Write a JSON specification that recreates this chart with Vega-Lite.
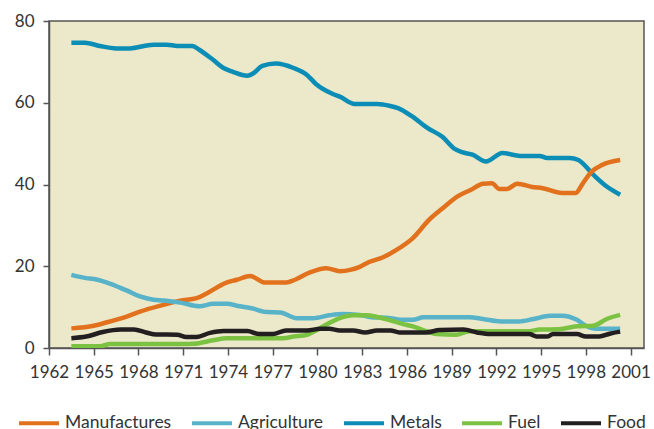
{
  "$schema": "https://vega.github.io/schema/vega-lite/v6.json",
  "width": 595,
  "height": 327,
  "autosize": {"type": "none"},
  "padding": {"left": 49, "top": 21, "right": 10, "bottom": 81},
  "background": "white",
  "config": {
    "view": {"fill": "#ECE9CB", "stroke": "#555555", "strokeWidth": 1.5},
    "font": "Lato",
    "axis": {"labelFont": "Lato", "labelFontSize": 17, "labelColor": "#333333", "domainColor": "#555555", "tickColor": "#555555", "domainWidth": 1.5, "tickWidth": 1.5, "grid": false, "title": null}
  },
  "data": {
    "values": [
      {"series": "Metals", "year": 1963.5, "value": 74.7},
      {"series": "Metals", "year": 1964.4, "value": 74.7},
      {"series": "Metals", "year": 1965.4, "value": 73.9},
      {"series": "Metals", "year": 1966.5, "value": 73.3},
      {"series": "Metals", "year": 1967.4, "value": 73.3},
      {"series": "Metals", "year": 1969.0, "value": 74.2},
      {"series": "Metals", "year": 1969.9, "value": 74.2},
      {"series": "Metals", "year": 1970.6, "value": 73.9},
      {"series": "Metals", "year": 1971.6, "value": 73.9},
      {"series": "Metals", "year": 1972.1, "value": 72.9},
      {"series": "Metals", "year": 1973.0, "value": 70.5},
      {"series": "Metals", "year": 1973.7, "value": 68.5},
      {"series": "Metals", "year": 1974.3, "value": 67.6},
      {"series": "Metals", "year": 1975.3, "value": 66.6},
      {"series": "Metals", "year": 1975.7, "value": 67.2},
      {"series": "Metals", "year": 1976.3, "value": 69.0},
      {"series": "Metals", "year": 1977.2, "value": 69.6},
      {"series": "Metals", "year": 1978.4, "value": 68.5},
      {"series": "Metals", "year": 1979.3, "value": 66.8},
      {"series": "Metals", "year": 1979.9, "value": 64.6},
      {"series": "Metals", "year": 1981.0, "value": 62.2},
      {"series": "Metals", "year": 1981.5, "value": 61.5},
      {"series": "Metals", "year": 1982.5, "value": 59.7},
      {"series": "Metals", "year": 1984.0, "value": 59.7},
      {"series": "Metals", "year": 1984.9, "value": 59.2},
      {"series": "Metals", "year": 1985.4, "value": 58.7},
      {"series": "Metals", "year": 1986.3, "value": 56.8},
      {"series": "Metals", "year": 1987.4, "value": 53.8},
      {"series": "Metals", "year": 1988.4, "value": 51.6},
      {"series": "Metals", "year": 1989.2, "value": 48.7},
      {"series": "Metals", "year": 1989.7, "value": 47.9},
      {"series": "Metals", "year": 1990.4, "value": 47.3},
      {"series": "Metals", "year": 1991.3, "value": 45.6},
      {"series": "Metals", "year": 1992.4, "value": 47.7},
      {"series": "Metals", "year": 1993.6, "value": 47.0},
      {"series": "Metals", "year": 1994.9, "value": 47.0},
      {"series": "Metals", "year": 1995.4, "value": 46.5},
      {"series": "Metals", "year": 1996.9, "value": 46.5},
      {"series": "Metals", "year": 1997.5, "value": 46.0},
      {"series": "Metals", "year": 1998.5, "value": 42.4},
      {"series": "Metals", "year": 1999.4, "value": 39.5},
      {"series": "Metals", "year": 2000.3, "value": 37.5},

      {"series": "Manufactures", "year": 1963.5, "value": 4.8},
      {"series": "Manufactures", "year": 1965.0, "value": 5.45},
      {"series": "Manufactures", "year": 1965.9, "value": 6.3},
      {"series": "Manufactures", "year": 1967.2, "value": 7.7},
      {"series": "Manufactures", "year": 1968.1, "value": 8.9},
      {"series": "Manufactures", "year": 1969.4, "value": 10.3},
      {"series": "Manufactures", "year": 1970.8, "value": 11.6},
      {"series": "Manufactures", "year": 1971.9, "value": 12.2},
      {"series": "Manufactures", "year": 1972.6, "value": 13.4},
      {"series": "Manufactures", "year": 1973.9, "value": 16.0},
      {"series": "Manufactures", "year": 1974.6, "value": 16.7},
      {"series": "Manufactures", "year": 1975.5, "value": 17.6},
      {"series": "Manufactures", "year": 1976.5, "value": 16.0},
      {"series": "Manufactures", "year": 1977.9, "value": 16.0},
      {"series": "Manufactures", "year": 1978.5, "value": 16.7},
      {"series": "Manufactures", "year": 1979.5, "value": 18.5},
      {"series": "Manufactures", "year": 1980.6, "value": 19.5},
      {"series": "Manufactures", "year": 1981.5, "value": 18.8},
      {"series": "Manufactures", "year": 1982.2, "value": 19.1},
      {"series": "Manufactures", "year": 1982.8, "value": 19.8},
      {"series": "Manufactures", "year": 1983.5, "value": 21.1},
      {"series": "Manufactures", "year": 1984.4, "value": 22.2},
      {"series": "Manufactures", "year": 1985.3, "value": 24.0},
      {"series": "Manufactures", "year": 1986.4, "value": 26.9},
      {"series": "Manufactures", "year": 1987.5, "value": 31.4},
      {"series": "Manufactures", "year": 1988.4, "value": 34.2},
      {"series": "Manufactures", "year": 1989.4, "value": 37.1},
      {"series": "Manufactures", "year": 1990.3, "value": 38.7},
      {"series": "Manufactures", "year": 1991.1, "value": 40.2},
      {"series": "Manufactures", "year": 1991.7, "value": 40.3},
      {"series": "Manufactures", "year": 1992.2, "value": 38.9},
      {"series": "Manufactures", "year": 1992.7, "value": 38.9},
      {"series": "Manufactures", "year": 1993.4, "value": 40.2},
      {"series": "Manufactures", "year": 1994.4, "value": 39.4},
      {"series": "Manufactures", "year": 1995.1, "value": 39.1},
      {"series": "Manufactures", "year": 1996.4, "value": 37.9},
      {"series": "Manufactures", "year": 1997.3, "value": 37.9},
      {"series": "Manufactures", "year": 1997.8, "value": 40.3},
      {"series": "Manufactures", "year": 1998.4, "value": 43.2},
      {"series": "Manufactures", "year": 1999.1, "value": 44.8},
      {"series": "Manufactures", "year": 2000.3, "value": 46.0},

      {"series": "Agriculture", "year": 1963.5, "value": 17.9},
      {"series": "Agriculture", "year": 1964.5, "value": 17.1},
      {"series": "Agriculture", "year": 1965.0, "value": 16.9},
      {"series": "Agriculture", "year": 1965.9, "value": 16.0},
      {"series": "Agriculture", "year": 1966.8, "value": 14.7},
      {"series": "Agriculture", "year": 1967.2, "value": 14.1},
      {"series": "Agriculture", "year": 1968.1, "value": 12.6},
      {"series": "Agriculture", "year": 1969.0, "value": 11.8},
      {"series": "Agriculture", "year": 1969.7, "value": 11.6},
      {"series": "Agriculture", "year": 1970.8, "value": 11.1},
      {"series": "Agriculture", "year": 1972.1, "value": 10.2},
      {"series": "Agriculture", "year": 1973.0, "value": 10.8},
      {"series": "Agriculture", "year": 1973.9, "value": 10.8},
      {"series": "Agriculture", "year": 1974.8, "value": 10.2},
      {"series": "Agriculture", "year": 1975.5, "value": 9.8},
      {"series": "Agriculture", "year": 1976.6, "value": 8.8},
      {"series": "Agriculture", "year": 1977.5, "value": 8.7},
      {"series": "Agriculture", "year": 1978.6, "value": 7.3},
      {"series": "Agriculture", "year": 1979.7, "value": 7.3},
      {"series": "Agriculture", "year": 1980.8, "value": 8.0},
      {"series": "Agriculture", "year": 1981.7, "value": 8.3},
      {"series": "Agriculture", "year": 1982.8, "value": 8.1},
      {"series": "Agriculture", "year": 1983.5, "value": 7.6},
      {"series": "Agriculture", "year": 1984.9, "value": 7.3},
      {"series": "Agriculture", "year": 1985.7, "value": 6.9},
      {"series": "Agriculture", "year": 1986.4, "value": 6.9},
      {"series": "Agriculture", "year": 1987.1, "value": 7.5},
      {"series": "Agriculture", "year": 1988.9, "value": 7.5},
      {"series": "Agriculture", "year": 1990.2, "value": 7.5},
      {"series": "Agriculture", "year": 1991.1, "value": 7.1},
      {"series": "Agriculture", "year": 1992.3, "value": 6.5},
      {"series": "Agriculture", "year": 1993.5, "value": 6.5},
      {"series": "Agriculture", "year": 1994.5, "value": 7.1},
      {"series": "Agriculture", "year": 1995.6, "value": 7.9},
      {"series": "Agriculture", "year": 1996.4, "value": 7.9},
      {"series": "Agriculture", "year": 1997.4, "value": 6.9},
      {"series": "Agriculture", "year": 1998.0, "value": 5.45},
      {"series": "Agriculture", "year": 1998.7, "value": 4.7},
      {"series": "Agriculture", "year": 2000.3, "value": 4.7},

      {"series": "Fuel", "year": 1963.5, "value": 0.4},
      {"series": "Fuel", "year": 1965.4, "value": 0.4},
      {"series": "Fuel", "year": 1966.1, "value": 1.0},
      {"series": "Fuel", "year": 1970.8, "value": 1.0},
      {"series": "Fuel", "year": 1971.7, "value": 1.05},
      {"series": "Fuel", "year": 1973.0, "value": 1.9},
      {"series": "Fuel", "year": 1973.9, "value": 2.4},
      {"series": "Fuel", "year": 1977.7, "value": 2.4},
      {"series": "Fuel", "year": 1978.4, "value": 2.8},
      {"series": "Fuel", "year": 1979.3, "value": 3.25},
      {"series": "Fuel", "year": 1979.9, "value": 4.3},
      {"series": "Fuel", "year": 1980.8, "value": 6.1},
      {"series": "Fuel", "year": 1981.5, "value": 7.3},
      {"series": "Fuel", "year": 1982.4, "value": 8.0},
      {"series": "Fuel", "year": 1983.3, "value": 8.0},
      {"series": "Fuel", "year": 1984.0, "value": 7.6},
      {"series": "Fuel", "year": 1984.9, "value": 6.75},
      {"series": "Fuel", "year": 1985.7, "value": 5.9},
      {"series": "Fuel", "year": 1986.4, "value": 5.3},
      {"series": "Fuel", "year": 1987.3, "value": 4.1},
      {"series": "Fuel", "year": 1988.0, "value": 3.4},
      {"series": "Fuel", "year": 1989.3, "value": 3.25},
      {"series": "Fuel", "year": 1990.2, "value": 4.1},
      {"series": "Fuel", "year": 1994.2, "value": 4.1},
      {"series": "Fuel", "year": 1994.9, "value": 4.5},
      {"series": "Fuel", "year": 1996.2, "value": 4.6},
      {"series": "Fuel", "year": 1997.4, "value": 5.3},
      {"series": "Fuel", "year": 1998.5, "value": 5.45},
      {"series": "Fuel", "year": 1999.4, "value": 7.1},
      {"series": "Fuel", "year": 2000.3, "value": 8.1},

      {"series": "Food", "year": 1963.5, "value": 2.4},
      {"series": "Food", "year": 1964.5, "value": 2.8},
      {"series": "Food", "year": 1965.6, "value": 3.9},
      {"series": "Food", "year": 1966.8, "value": 4.5},
      {"series": "Food", "year": 1967.7, "value": 4.5},
      {"series": "Food", "year": 1968.5, "value": 3.8},
      {"series": "Food", "year": 1969.2, "value": 3.3},
      {"series": "Food", "year": 1970.6, "value": 3.25},
      {"series": "Food", "year": 1971.2, "value": 2.7},
      {"series": "Food", "year": 1971.9, "value": 2.7},
      {"series": "Food", "year": 1972.8, "value": 3.7},
      {"series": "Food", "year": 1973.7, "value": 4.15},
      {"series": "Food", "year": 1975.3, "value": 4.15},
      {"series": "Food", "year": 1976.1, "value": 3.4},
      {"series": "Food", "year": 1977.0, "value": 3.4},
      {"series": "Food", "year": 1977.9, "value": 4.3},
      {"series": "Food", "year": 1979.3, "value": 4.3},
      {"series": "Food", "year": 1980.2, "value": 4.7},
      {"series": "Food", "year": 1980.8, "value": 4.7},
      {"series": "Food", "year": 1981.5, "value": 4.3},
      {"series": "Food", "year": 1982.4, "value": 4.3},
      {"series": "Food", "year": 1983.2, "value": 3.8},
      {"series": "Food", "year": 1984.0, "value": 4.3},
      {"series": "Food", "year": 1984.9, "value": 4.3},
      {"series": "Food", "year": 1985.5, "value": 3.8},
      {"series": "Food", "year": 1987.3, "value": 3.8},
      {"series": "Food", "year": 1988.2, "value": 4.4},
      {"series": "Food", "year": 1989.8, "value": 4.5},
      {"series": "Food", "year": 1990.7, "value": 3.8},
      {"series": "Food", "year": 1991.6, "value": 3.4},
      {"series": "Food", "year": 1994.2, "value": 3.4},
      {"series": "Food", "year": 1994.7, "value": 2.8},
      {"series": "Food", "year": 1995.4, "value": 2.8},
      {"series": "Food", "year": 1995.8, "value": 3.4},
      {"series": "Food", "year": 1997.4, "value": 3.4},
      {"series": "Food", "year": 1998.0, "value": 2.8},
      {"series": "Food", "year": 1998.9, "value": 2.8},
      {"series": "Food", "year": 1999.6, "value": 3.5},
      {"series": "Food", "year": 2000.3, "value": 4.0}
    ]
  },
  "mark": {"type": "line", "strokeWidth": 4.5, "interpolate": "monotone", "strokeCap": "butt", "clip": true},
  "encoding": {
    "x": {
      "field": "year", "type": "quantitative",
      "scale": {"domain": [1962, 2001.9], "nice": false, "zero": false},
      "axis": {"values": [1962, 1965, 1968, 1971, 1974, 1977, 1980, 1983, 1986, 1989, 1992, 1995, 1998, 2001], "format": "d", "tickSize": 7, "labelPadding": 9, "labelFlush": false, "labelOverlap": false}
    },
    "y": {
      "field": "value", "type": "quantitative",
      "scale": {"domain": [0, 80], "nice": false},
      "axis": {"values": [0, 20, 40, 60, 80], "tickSize": 6, "labelPadding": 9}
    },
    "color": {
      "field": "series", "type": "nominal",
      "scale": {"domain": ["Manufactures", "Agriculture", "Metals", "Fuel", "Food"], "range": ["#E2711D", "#58B3C9", "#0B8DB5", "#7CC242", "#231F20"]},
      "legend": {"title": null, "orient": "none", "legendX": -32, "legendY": 380, "direction": "horizontal", "symbolType": "stroke", "symbolStrokeWidth": 4, "symbolSize": 1600, "labelFont": "Lato", "labelFontSize": 17.5, "labelColor": "#333333", "labelOffset": 4, "columnPadding": 12}
    },
    "order": {"field": "year", "type": "quantitative"}
  }
}
